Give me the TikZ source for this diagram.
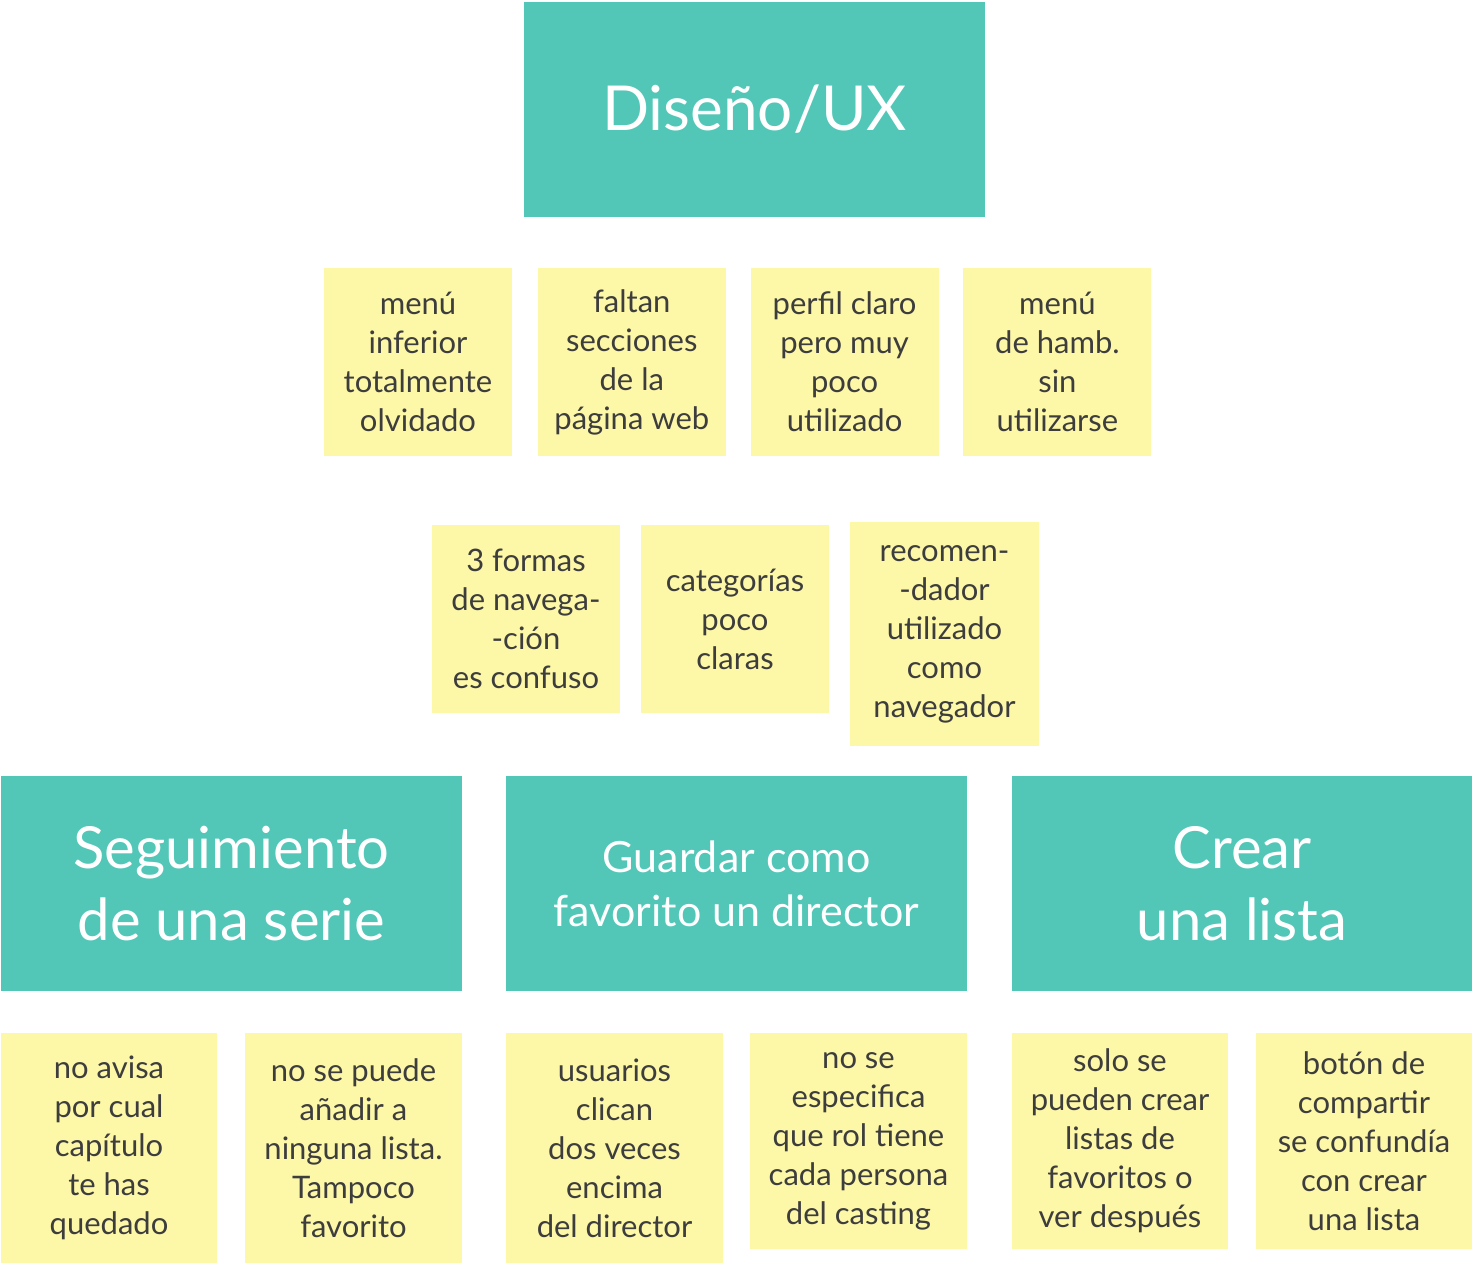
\documentclass[tikz,border=0pt]{standalone}
\usepackage{fontspec}
\setmainfont{Lato}
\usetikzlibrary{positioning}
\definecolor{teal1}{HTML}{52C7B8}
\definecolor{note}{HTML}{FDF7A8}
\definecolor{ink}{HTML}{3D3D3D}

\begin{document}
\begin{tikzpicture}[x=0.5pt,y=-0.5pt]
    \tikzset{
      topic/.style={fill=teal1, text=white, inner sep=0pt, align=center},
      sticky/.style={fill=note, text=ink, inner sep=0pt, align=center,
        font=\fontsize{15.5}{19.5}\selectfont},
    }
    \useasboundingbox (0,0) rectangle (1472,1263);
    % titles
    \node[topic, minimum width=230.5pt, minimum height=107.5pt,
      font=\fontsize{31}{36}\selectfont] (ux) at (754.5,109.5) {Diseño/UX};
    \node[topic, minimum width=230.5pt, minimum height=107.5pt,
      font=\fontsize{29}{36}\selectfont] (serie) at (231.5,883.5) {Seguimiento\\de una serie};
    \node[topic, minimum width=230.5pt, minimum height=107.5pt,
      font=\fontsize{21.5}{27}\selectfont] (director) at (736.5,883.5) {Guardar como\\favorito un director};
    \node[topic, minimum width=230pt, minimum height=107.5pt,
      font=\fontsize{29}{36}\selectfont] (lista) at (1242,883.5) {Crear\\una lista};
    % notes under Diseño/UX
    \node[sticky, minimum width=94pt, minimum height=94pt] (n1) at (418,362) {menú\\inferior\\totalmente\\olvidado};
    \node[sticky, minimum width=94pt, minimum height=94pt, right=12.5pt of n1] (n2) {faltan\\secciones\\de la\\página web};
    \node[sticky, minimum width=94pt, minimum height=94pt, right=12pt of n2] (n3) {perfil claro\\pero muy\\poco\\utilizado};
    \node[sticky, minimum width=94pt, minimum height=94pt, right=12pt of n3] (n4) {menú\\de hamb.\\sin\\utilizarse};
    \node[sticky, minimum width=94pt, minimum height=94pt] (n5) at (526,619) {3 formas\\de navega-\\-ción\\es confuso};
    \node[sticky, minimum width=94pt, minimum height=94pt] (n6) at (735,619) {categorías\\poco\\claras};
    \node[sticky, minimum width=94.5pt, minimum height=112pt] (n7) at (944.5,634) {recomen-\\-dador\\utilizado\\como\\navegador};
    % notes under the tasks
    \node[sticky, minimum width=108pt, minimum height=115pt] (s1) at (109,1148) {no avisa\\por cual\\capítulo\\te has\\quedado};
    \node[sticky, minimum width=108.5pt, minimum height=115pt] (s2) at (353.5,1148) {no se puede\\añadir a\\ninguna lista.\\Tampoco\\favorito};
    \node[sticky, minimum width=108.5pt, minimum height=115pt] (d1) at (614.5,1148) {usuarios\\clican\\dos veces\\encima\\del director};
    \node[sticky, minimum width=108.5pt, minimum height=108pt] (d2) at (858.5,1141) {no se\\especifica\\que rol tiene\\cada persona\\del casting};
    \node[sticky, minimum width=108pt, minimum height=108pt] (l1) at (1120,1141) {solo se\\pueden crear\\listas de\\favoritos o\\ver después};
    \node[sticky, minimum width=108pt, minimum height=108pt] (l2) at (1364,1141) {botón de\\compartir\\se confundía\\con crear\\una lista};
\end{tikzpicture}
\end{document}
